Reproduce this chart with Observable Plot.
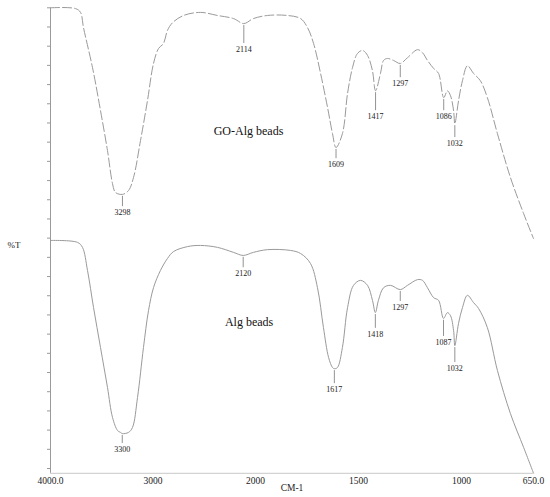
<!DOCTYPE html>
<html>
<head>
<meta charset="utf-8">
<script src="https://cdn.jsdelivr.net/npm/d3@7"></script>
<script src="https://cdn.jsdelivr.net/npm/@observablehq/plot@0.6"></script>
<style>
  html, body { margin: 0; padding: 0; background: #fff; }
  #chart svg { display: block; }
</style>
</head>
<body>
<div id="chart"></div>
<script>
// ---- Data (wavenumber in cm-1, %T in arbitrary stacked units) ----
const goAlgWn = [4000,3756,3707,3678,3590,3512,3444,3395,3366,3298,3239,3190,3122,3054,2995,2946,2898,2859,2810,2702,2537,2371,2215,2114,2020,1942,1845,1781,1747,1718,1684,1650,1626,1609,1578,1553,1529,1505,1480,1456,1432,1417,1393,1378,1359,1330,1297,1262,1213,1189,1165,1135,1111,1086,1068,1053,1038,1032,1014,995,971,941,908,874,825,762,698,650];
const goAlgT  = [120.0,119.8,118.8,114.8,104.4,93.2,82.8,74.2,71.9,71.4,72.4,75.8,85.4,95.8,105.5,109.4,110.7,114.1,116.1,118.0,118.8,118.0,117.2,115.9,117.2,118.0,118.0,117.2,114.8,110.7,102.9,94.0,87.2,83.6,87.2,97.7,104.4,108.1,108.9,107.6,103.6,98.4,102.9,106.3,106.8,106.3,105.5,107.0,109.1,108.3,106.3,104.2,102.9,96.6,98.4,97.1,93.2,89.8,95.8,101.0,104.9,102.9,101.0,96.6,87.2,75.8,66.4,59.9];

const algWn = [4000,3737,3688,3639,3580,3512,3444,3395,3346,3317,3300,3239,3200,3151,3093,3044,2995,2927,2859,2800,2663,2537,2371,2215,2120,2020,1942,1830,1781,1733,1699,1670,1645,1626,1617,1602,1578,1553,1524,1490,1456,1432,1418,1403,1378,1344,1297,1262,1213,1189,1165,1135,1111,1087,1068,1053,1038,1032,1014,995,971,941,917,874,825,762,698,650];
const algT  = [59.4,58.9,57.6,51.6,41.9,31.5,21.1,13.3,9.9,9.4,9.1,9.4,10.7,18.5,31.5,41.1,47.1,51.6,54.7,56.5,57.8,58.1,57.6,56.3,55.5,56.3,57.0,56.8,56.0,53.4,47.1,36.7,28.9,26.3,26.0,26.3,31.5,41.9,47.7,49.0,47.7,43.8,40.6,43.8,47.1,47.7,46.6,47.7,49.2,49.0,47.1,44.5,43.8,39.1,40.6,39.8,35.9,32.0,37.8,41.9,45.1,43.2,41.7,36.7,25.5,14.3,5.5,-1.2];

// Peak annotations: wavenumber, label, %T value where the leader line ends
const goAlgPeakWn  = [3298, 2114, 1609, 1417, 1297, 1086, 1032];
const goAlgPeakEnd = [68.2, 110.7, 80.7, 93.2, 101.8, 93.2, 86.2];
const algPeakWn    = [3300, 2120, 1617, 1418, 1297, 1087, 1032];
const algPeakEnd   = [6.5, 52.3, 22.1, 36.5, 43.5, 34.4, 27.6];

// Series names and their anchor (wavenumber, %T)
const seriesNames = ["GO-Alg beads", "Alg beads"];
const seriesNameWn = [2068, 2063];
const seriesNameT  = [87.9, 38.1];

// Axis ticks
const xTicks = [4000, 3000, 2000, 1500, 1000, 650];
const xTickLabels = ["4000.0", "3000", "2000", "1500", "1000", "650.0"];
const yTicks = d3.range(0, 121, 5);
const yMin = -1.25, yMax = 120;

// ---- Build tables ----
const goAlg = goAlgWn.map((w, i) => ({wn: w, t: goAlgT[i]}));
const alg = algWn.map((w, i) => ({wn: w, t: algT[i]}));

function valueAt(series, w) {
  for (let i = 0; i < series.length - 1; i++) {
    const a = series[i], b = series[i + 1];
    if (w <= a.wn && w >= b.wn) {
      const f = (a.wn - w) / (a.wn - b.wn);
      return a.t + f * (b.t - a.t);
    }
  }
  return series[series.length - 1].t;
}

const peaks = [
  ...goAlgPeakWn.map((w, i) => ({wn: w, label: String(w), top: valueAt(goAlg, w) - 0.5, end: goAlgPeakEnd[i]})),
  ...algPeakWn.map((w, i) => ({wn: w, label: String(w), top: valueAt(alg, w) - 0.5, end: algPeakEnd[i]}))
];
const names = seriesNames.map((n, i) => ({name: n, wn: seriesNameWn[i], t: seriesNameT[i]}));

const gray = "#9a9a9a";
const serif = "'Liberation Serif', 'DejaVu Serif', serif";

const chart = Plot.plot({
  width: 550,
  height: 497,
  marginLeft: 50,
  marginRight: 17,
  marginTop: 7.3,
  marginBottom: 24.2,
  style: {fontFamily: serif, background: "#fff", color: "#222"},
  x: {type: "linear", domain: [4000, 2000, 650], range: [50, 255, 533]},
  y: {domain: [yMin, yMax]},
  marks: [
    Plot.axisY({ticks: yTicks, tickSize: 3, tickFormat: () => "", label: null, stroke: gray}),
    Plot.axisX({ticks: xTicks, tickSize: 0, tickPadding: 4, fontSize: 9.5,
      tickFormat: d => xTickLabels[xTicks.indexOf(d)], label: null}),
    Plot.ruleX([4000], {y1: yMin, y2: yMax, stroke: gray, strokeWidth: 1}),
    Plot.ruleY([yMin], {x1: 4000, x2: 650, stroke: "#c8c8c8", strokeWidth: 1}),
    Plot.line(goAlg, {x: "wn", y: "t", stroke: gray, strokeWidth: 1, strokeDasharray: "9,3", curve: "catmull-rom"}),
    Plot.line(alg, {x: "wn", y: "t", stroke: gray, strokeWidth: 1, curve: "catmull-rom"}),
    Plot.ruleX(peaks, {x: "wn", y1: "top", y2: "end", stroke: "#777", strokeWidth: 0.8}),
    Plot.text(peaks, {x: "wn", y: "end", text: "label", dy: 6, fontSize: 8, fill: "#222", lineAnchor: "middle"}),
    Plot.text(names, {x: "wn", y: "t", text: "name", fontSize: 12, fill: "#111"}),
    Plot.text(["%T"], {frameAnchor: "left", y: [58.3], dx: -43, textAnchor: "start", fontSize: 9, fill: "#222"}),
    Plot.text(["CM-1"], {frameAnchor: "bottom", dy: 18, fontSize: 9.5, fill: "#222"})
  ]
});
document.getElementById("chart").appendChild(chart);
</script>
</body>
</html>
